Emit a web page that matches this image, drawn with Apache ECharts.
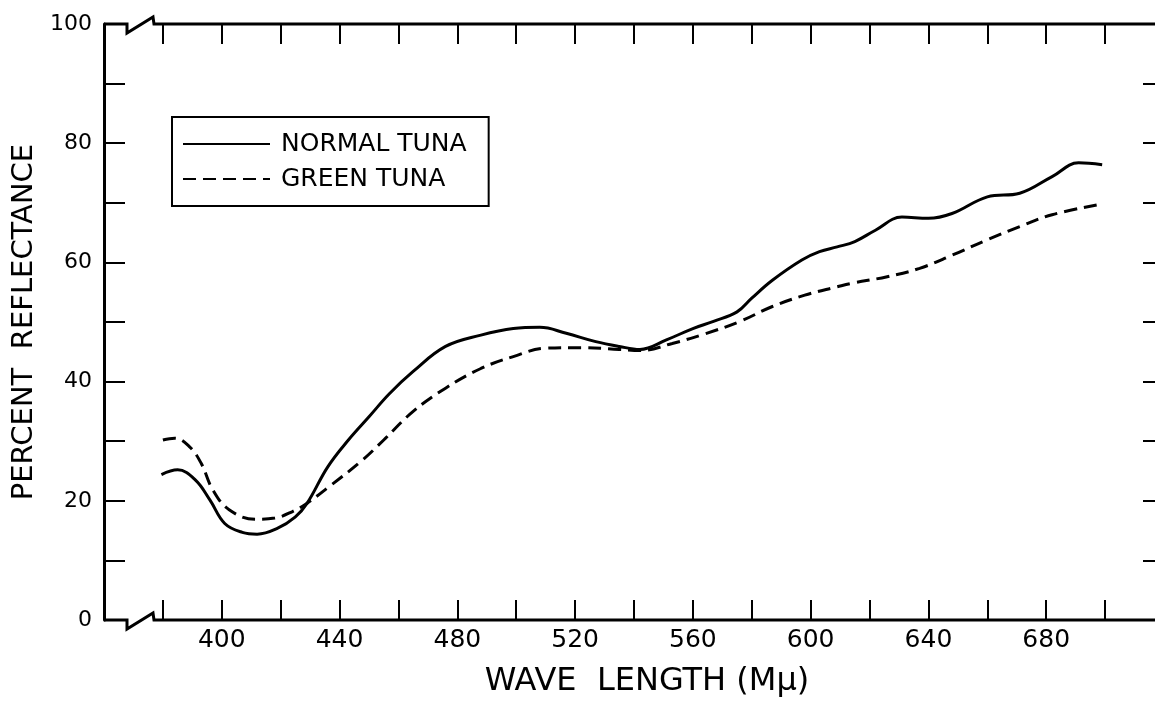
<!DOCTYPE html>
<html>
<head>
<meta charset="utf-8">
<title>Percent reflectance of tuna</title>
<script src="https://cdn.jsdelivr.net/npm/echarts@6/dist/echarts.min.js"></script>
<style>
    html, body { margin: 0; padding: 0; background: #fff; }
    #chart { width: 1155px; height: 704px; }
</style>
</head>
<body>
<div id="chart"></div>
<script>
// 数据：波长 (mμ) 和反射率 (%)
const normalWave = [379.5, 385, 391, 396, 401, 407, 412, 419, 425, 429, 436, 443, 450, 457, 465, 476, 488, 499, 508, 517, 527, 535, 542, 551, 560, 567, 575, 580, 587, 597, 603, 609, 615, 622, 631, 640, 648, 660, 671, 682, 691, 699];
const normalValue = [24.4, 25.2, 23.5, 20.1, 16.2, 14.7, 14.4, 15.4, 17.3, 19.6, 25.7, 30.2, 34.1, 38.0, 41.7, 45.9, 47.8, 48.9, 49.1, 48.1, 46.7, 45.9, 45.4, 47.0, 48.9, 50.1, 51.7, 54.0, 57.0, 60.4, 61.8, 62.6, 63.5, 65.4, 67.6, 67.4, 68.2, 71.0, 71.6, 74.4, 76.7, 76.4];

const greenWave = [380, 384, 389, 393, 397, 402.5, 411.5, 418, 424, 429, 436.5, 447, 455, 465, 476, 488, 499, 510, 522, 535, 542, 553, 564, 576, 587, 598, 609, 614, 626, 637, 648, 660, 671, 682, 699];
const greenValue = [30.2, 30.5, 29.1, 26.3, 21.8, 18.5, 16.9, 17.1, 18.2, 19.6, 22.4, 26.5, 30.2, 35.0, 38.9, 42.2, 44.2, 45.6, 45.7, 45.4, 45.2, 46.4, 48.0, 50.1, 52.6, 54.5, 55.9, 56.5, 57.6, 59.0, 61.2, 63.8, 66.0, 68.0, 69.8];

// 刻度标签
const xLabels = [400, 440, 480, 520, 560, 600, 640, 680];
const yLabels = [0, 20, 40, 60, 80, 100];

const FONT = "DejaVu Sans";

function pairs(xs, ys) {
    return xs.map(function (x, i) { return [x, ys[i]]; });
}

const chart = echarts.init(document.getElementById("chart"));

const tickStyle = { color: "#000", width: 2 };

const option = {
    animation: false,
    backgroundColor: "#fff",
    grid: {
        left: 104,
        right: -9,
        top: 24,
        bottom: 84,
        outerBoundsMode: "none",
        containLabel: false
    },
    legend: {
        data: ["NORMAL TUNA", "GREEN TUNA"],
        orient: "vertical",
        left: 172,
        top: 117,
        borderColor: "#000",
        borderWidth: 2,
        padding: [14, 22, 14, 10],
        itemWidth: 87,
        itemHeight: 14,
        itemGap: 9,
        itemStyle: { color: "rgba(0,0,0,0)", borderWidth: 0 },
        textStyle: {
            fontFamily: FONT,
            fontSize: 25,
            color: "#000",
            lineHeight: 26,
            padding: [0, 0, 0, 6]
        }
    },
    xAxis: [{
        type: "value",
        position: "bottom",
        min: 360,
        max: 720,
        interval: 20,
        axisLine: { show: false, onZero: false },
        axisTick: { inside: true, length: 20, lineStyle: tickStyle },
        splitLine: { show: false },
        axisLabel: {
            margin: 8,
            color: "#000",
            fontFamily: FONT,
            fontSize: 25,
            formatter: function (v) { return xLabels.indexOf(v) >= 0 ? String(v) : ""; }
        },
        name: "WAVE  LENGTH (Mμ)",
        nameLocation: "middle",
        nameGap: 46,
        nameTextStyle: {
            color: "#000",
            fontFamily: FONT,
            fontSize: 32,
            padding: [0, 0, 0, 26]
        }
    }, {
        type: "value",
        position: "top",
        min: 360,
        max: 720,
        interval: 20,
        axisLine: { show: false, onZero: false },
        axisTick: { inside: true, length: 20, lineStyle: tickStyle },
        splitLine: { show: false },
        axisLabel: { show: false }
    }],
    yAxis: [{
        type: "value",
        position: "left",
        min: 0,
        max: 100,
        interval: 10,
        axisLine: { show: true, onZero: false, lineStyle: { color: "#000", width: 3 } },
        axisTick: { inside: true, length: 21, lineStyle: tickStyle },
        splitLine: { show: false },
        axisLabel: {
            margin: 12,
            color: "#000",
            fontFamily: FONT,
            fontSize: 22,
            formatter: function (v) { return yLabels.indexOf(v) >= 0 ? String(v) : ""; }
        },
        name: "PERCENT  REFLECTANCE",
        nameLocation: "middle",
        nameGap: 50,
        nameTextStyle: {
            color: "#000",
            fontFamily: FONT,
            fontSize: 29
        }
    }, {
        type: "value",
        position: "right",
        min: 0,
        max: 100,
        interval: 10,
        axisLine: { show: true, onZero: false, lineStyle: { color: "#000", width: 3 } },
        axisTick: { inside: true, length: 21, lineStyle: tickStyle },
        splitLine: { show: false },
        axisLabel: { show: false }
    }],
    series: [{
        name: "NORMAL TUNA",
        type: "line",
        data: pairs(normalWave, normalValue),
        smooth: 0.4,
        symbol: "none",
        lineStyle: { color: "#000", width: 3 },
        itemStyle: { color: "#000" }
    }, {
        name: "GREEN TUNA",
        type: "line",
        data: pairs(greenWave, greenValue),
        smooth: 0.4,
        symbol: "none",
        lineStyle: { color: "#000", width: 3, type: [13, 7] },
        itemStyle: { color: "#000" }
    }]
};

chart.setOption(option);

// 横轴断开符号
function breakLine(yVal) {
    const p0 = chart.convertToPixel({ gridIndex: 0 }, [360, yVal]);
    const p1 = chart.convertToPixel({ gridIndex: 0 }, [720, yVal]);
    const x = p0[0], y = p0[1];
    return {
        type: "polyline",
        silent: true,
        shape: {
            points: [
                [x, y], [x + 23, y], [x + 23, y + 9],
                [x + 49, y - 7], [x + 50, y], [p1[0], y]
            ]
        },
        style: { stroke: "#000", lineWidth: 3, fill: null }
    };
}

chart.setOption({
    graphic: [breakLine(0), breakLine(100)]
});
</script>
</body>
</html>
